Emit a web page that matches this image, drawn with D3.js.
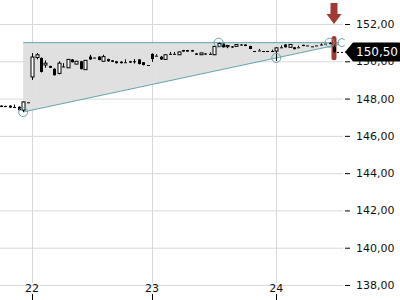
<!DOCTYPE html>
<html>
<head>
<meta charset="utf-8">
<script src="https://cdn.jsdelivr.net/npm/d3@7"></script>
<style>
    body { margin: 0; background: #fff; }
    svg { display: block; font-family: "DejaVu Sans", sans-serif; }
</style>
</head>
<body>
<div id="chart"></div>
<script>
// candle data, one entry per bar (index based x axis)
const opens = [147.62, 147.60, 147.62, 147.55, 147.56, 147.38, 147.80,
    149.16, 150.20, 150.18, 149.80, 149.75, 149.60, 149.35, 149.72, 149.65, 150.10, 149.85, 150.00, 149.55,
    150.25, 150.20, 150.25, 150.00, 150.12, 150.05, 150.00, 149.98, 149.95, 150.00, 150.00, 150.10, 149.95, 149.80,
    150.40, 150.30, 150.25, 150.10, 150.40, 150.40, 150.35, 150.60, 150.60, 150.60, 150.42, 150.35, 150.42, 150.40,
    150.35, 150.80, 150.95, 150.78, 150.80, 150.80, 150.90, 150.90, 150.82, 150.55, 150.58, 150.55, 150.55, 150.55,
    150.55, 150.75, 150.90, 150.75, 150.75, 150.75, 150.88, 150.85, 150.80, 150.85, 150.90, 150.95, 150.97, 150.78];
const highs = [147.64, 147.62, 147.64, 147.68, 147.58, 147.84, 147.80,
    150.44, 150.44, 150.20, 150.05, 149.76, 149.62, 150.00, 149.90, 150.12, 150.12, 150.02, 150.02, 150.06,
    150.35, 150.20, 150.27, 150.35, 150.14, 150.06, 150.02, 150.00, 150.10, 150.02, 150.12, 150.12, 149.96, 149.80,
    150.42, 150.38, 150.27, 150.36, 150.50, 150.50, 150.52, 150.61, 150.61, 150.61, 150.44, 150.46, 150.43, 150.48,
    150.82, 151.00, 150.96, 150.86, 150.81, 150.91, 150.92, 150.91, 150.83, 150.55, 150.66, 150.55, 150.56, 150.62,
    150.75, 150.85, 150.92, 150.92, 150.76, 150.84, 150.89, 150.85, 150.80, 150.85, 150.96, 150.95, 151.02, 150.85];
const lows = [147.54, 147.54, 147.50, 147.55, 147.36, 147.28, 147.80,
    149.00, 150.10, 149.40, 149.65, 149.64, 149.24, 149.30, 149.70, 149.64, 149.94, 149.84, 149.56, 149.54,
    150.08, 150.20, 150.05, 149.98, 149.98, 149.96, 149.88, 149.88, 149.95, 149.92, 149.88, 149.84, 149.78, 149.80,
    149.97, 150.30, 150.08, 150.08, 150.40, 150.40, 150.34, 150.52, 150.52, 150.52, 150.34, 150.34, 150.36, 150.40,
    150.34, 150.79, 150.74, 150.70, 150.72, 150.79, 150.84, 150.81, 150.65, 150.55, 150.58, 150.55, 150.54, 150.55,
    150.02, 150.75, 150.74, 150.74, 150.64, 150.75, 150.81, 150.85, 150.80, 150.85, 150.86, 150.95, 150.93, 150.45];
const closes = [147.55, 147.55, 147.52, 147.55, 147.38, 147.82, 147.80,
    150.23, 150.35, 149.43, 149.90, 149.65, 149.25, 149.90, 149.70, 150.10, 149.95, 150.00, 149.58, 150.05,
    150.10, 150.20, 150.07, 150.25, 150.00, 149.97, 149.90, 149.90, 149.95, 149.93, 149.95, 149.85, 149.80, 149.80,
    150.12, 150.30, 150.10, 150.35, 150.40, 150.40, 150.50, 150.52, 150.52, 150.52, 150.35, 150.45, 150.36, 150.40,
    150.80, 150.95, 150.75, 150.85, 150.74, 150.90, 150.85, 150.82, 150.66, 150.55, 150.58, 150.55, 150.55, 150.55,
    150.72, 150.75, 150.75, 150.90, 150.65, 150.75, 150.82, 150.85, 150.80, 150.85, 150.90, 150.95, 150.97, 150.50];

// x axis days: label and index of the first bar of that day
const dayLabels = ['22', '23', '24'];
const dayStarts = [7, 34, 62];

// y axis ticks
const yTicks = [138, 140, 142, 144, 146, 148, 150, 152];

// chart pattern (triangle): resistance level and support trend line
const resistance = 151.0;
const trendIdx = [5, 62];
const trendVal = [147.28, 150.18];
const patternEnd = 76.1;
const topMarks = [49, 74];

// last price
const lastPrice = 150.50;
const lastLabel = '150,50';

const width = 400, height = 300,
    teal = '#64a6ab',
    red = '#a13a33',
    grid = '#d9d9d9';

let n = closes.length,
    last = n - 1,

    // x scale on bar index
    xScale = d3.scaleLinear()
        .domain([0, last])
        .range([1, 334]),

    // y scale on price
    yScale = d3.scaleLinear()
        .domain([138, 152])
        .range([285, 24]),

    trendAt = i => trendVal[0] + (trendVal[1] - trendVal[0]) / (trendIdx[1] - trendIdx[0]) * (i - trendIdx[0]),

    svg = d3.select('#chart')
        .append('svg')
        .attr('width', width)
        .attr('height', height);

// horizontal grid
svg.append('g')
    .selectAll('line')
    .data(yTicks).enter()
    .append('line')
    .attr('x1', 0)
    .attr('x2', 343)
    .attr('y1', d => yScale(d) + 0.5)
    .attr('y2', d => yScale(d) + 0.5)
    .attr('stroke', grid);

// vertical grid
svg.append('g')
    .selectAll('line')
    .data(dayStarts).enter()
    .append('line')
    .attr('x1', d => Math.round(xScale(d)) + 0.5)
    .attr('x2', d => Math.round(xScale(d)) + 0.5)
    .attr('y1', 0)
    .attr('y2', 283)
    .attr('stroke', grid);

// triangle fill
let x0 = xScale(trendIdx[0]), x1 = xScale(patternEnd);
svg.append('path')
    .attr('d', d3.line()([
        [x0, yScale(resistance)],
        [x1, yScale(resistance)],
        [x1, yScale(trendAt(patternEnd))],
        [x0, yScale(trendVal[0])]
    ]) + 'Z')
    .attr('fill', '#dedede')
    .attr('opacity', 0.95);

// resistance and trend lines
svg.append('line')
    .attr('x1', x0).attr('x2', x1)
    .attr('y1', yScale(resistance)).attr('y2', yScale(resistance))
    .attr('stroke', teal);

svg.append('line')
    .attr('x1', x0).attr('x2', x1)
    .attr('y1', yScale(trendVal[0])).attr('y2', yScale(trendAt(patternEnd)))
    .attr('stroke', teal);

// red highlight behind the last candle
svg.append('rect')
    .attr('x', xScale(last) - 2.5)
    .attr('y', yScale(highs[last] + 0.5))
    .attr('width', 5)
    .attr('height', yScale(lows[last] - 0.4) - yScale(highs[last] + 0.5))
    .attr('rx', 2.5)
    .attr('fill', red);

// candles
let candles = svg.append('g')
    .selectAll('g')
    .data(d3.range(n)).enter()
    .append('g');

candles.append('line')
    .attr('x1', i => Math.round(xScale(i)) + 0.5)
    .attr('x2', i => Math.round(xScale(i)) + 0.5)
    .attr('y1', i => yScale(highs[i]))
    .attr('y2', i => yScale(lows[i]))
    .attr('stroke', '#000');

candles.append('rect')
    .attr('x', i => Math.round(xScale(i)) - 1)
    .attr('y', i => Math.min(yScale(opens[i]), yScale(closes[i])))
    .attr('width', 3)
    .attr('height', i => Math.max(1, Math.abs(yScale(opens[i]) - yScale(closes[i]))))
    .attr('fill', i => closes[i] > opens[i] ? '#fff' : '#000')
    .attr('stroke', i => closes[i] > opens[i] ? '#000' : 'none')
    .attr('stroke-width', 1);

// pattern circles
let circles = [[trendIdx[0], trendVal[0]], [trendIdx[1], trendVal[1]]]
    .concat(topMarks.map(i => [i, resistance]));

svg.append('g')
    .selectAll('circle')
    .data(circles).enter()
    .append('circle')
    .attr('cx', d => xScale(d[0]))
    .attr('cy', d => yScale(d[1]))
    .attr('r', 4.5)
    .attr('fill', 'none')
    .attr('stroke', teal);

// open arc at the apex of the triangle
let apex = d3.path();
apex.arc(xScale(patternEnd) + 3, yScale(resistance), 4, Math.PI / 4, Math.PI * 7 / 4);
svg.append('path')
    .attr('d', apex.toString())
    .attr('fill', 'none')
    .attr('stroke', teal);

// red arrow above the last candle
let ax = xScale(last);
svg.append('path')
    .attr('d', d3.line()([
        [ax - 3.5, 3], [ax + 3.5, 3], [ax + 3.5, 14], [ax + 7.5, 14],
        [ax, 24], [ax - 7.5, 14], [ax - 3.5, 14]
    ]) + 'Z')
    .attr('fill', red);

// y axis ticks and labels
let yAxis = svg.append('g');
yAxis.selectAll('line')
    .data(yTicks).enter()
    .append('line')
    .attr('x1', 345).attr('x2', 350)
    .attr('y1', d => yScale(d) + 0.5)
    .attr('y2', d => yScale(d) + 0.5)
    .attr('stroke', '#000');

yAxis.selectAll('text')
    .data(yTicks).enter()
    .append('text')
    .attr('x', 356)
    .attr('y', d => yScale(d))
    .attr('dy', '0.36em')
    .attr('font-size', 11)
    .attr('fill', '#111')
    .text(d => d3.format('.2f')(d).replace('.', ','));

// x axis ticks and labels
let xAxis = svg.append('g');
xAxis.selectAll('line')
    .data(dayStarts).enter()
    .append('line')
    .attr('x1', d => Math.round(xScale(d)) + 0.5)
    .attr('x2', d => Math.round(xScale(d)) + 0.5)
    .attr('y1', 294).attr('y2', 300)
    .attr('stroke', '#000');

xAxis.selectAll('text')
    .data(dayStarts).enter()
    .append('text')
    .attr('x', d => xScale(d))
    .attr('y', 292)
    .attr('text-anchor', 'middle')
    .attr('font-size', 11)
    .attr('fill', '#111')
    .text((d, i) => dayLabels[i]);

// dashed line from last candle to price label
let py = yScale(lastPrice);
svg.append('line')
    .attr('x1', xScale(last) + 3).attr('x2', 346)
    .attr('y1', py + 0.5).attr('y2', py + 0.5)
    .attr('stroke', '#000')
    .attr('stroke-dasharray', '2,2');

// last price label
svg.append('path')
    .attr('d', d3.line()([[345, py], [353, py - 9.5], [400, py - 9.5], [400, py + 9.5], [353, py + 9.5]]) + 'Z')
    .attr('fill', '#000');

svg.append('text')
    .attr('x', 356)
    .attr('y', py)
    .attr('dy', '0.36em')
    .attr('font-size', 12)
    .attr('fill', '#fff')
    .text(lastLabel);
</script>
</body>
</html>
